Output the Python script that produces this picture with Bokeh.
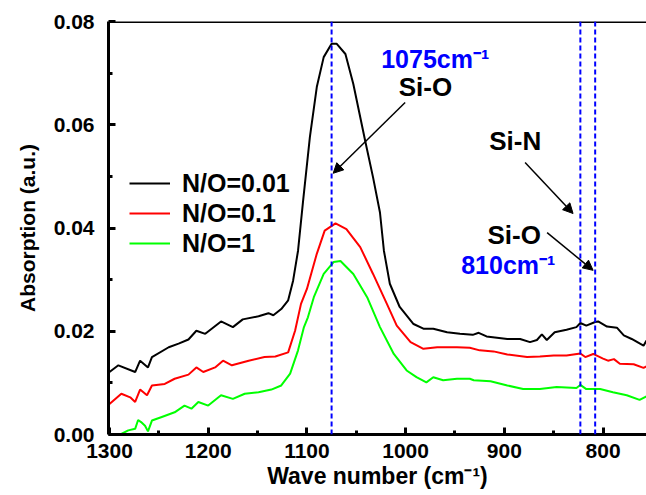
from bokeh.plotting import figure
from bokeh.models import (Range1d, Span, Label, Arrow, NormalHead, Legend, LegendItem,
                          FixedTicker, NumeralTickFormatter)
from bokeh.embed import file_html
from bokeh.resources import INLINE

# ---- data ----
wn_001 = [1300, 1291, 1274, 1269, 1261, 1257, 1240, 1230, 1220, 1212, 1203, 1187, 1175, 1165,
          1149, 1139, 1134, 1126, 1119, 1114, 1109, 1104, 1097, 1090, 1083, 1075, 1070, 1061,
          1053, 1041, 1033, 1026, 1022, 1016, 1006, 992, 982, 972, 958, 945, 932, 926, 918,
          897, 884, 874, 867, 862, 857, 849, 837, 827, 823, 817, 808, 805, 796, 786, 779,
          771, 759, 756]
ab_001 = [0.0121, 0.0134, 0.0121, 0.0143, 0.0130, 0.0150, 0.0169, 0.0176, 0.0184, 0.0201,
          0.0195, 0.0219, 0.0208, 0.0223, 0.0229, 0.0235, 0.0231, 0.0243, 0.0260, 0.0298,
          0.0356, 0.0450, 0.0576, 0.0673, 0.0731, 0.0757, 0.0757, 0.0737, 0.0679, 0.0569,
          0.0498, 0.0430, 0.0356, 0.0292, 0.0247, 0.0214, 0.0205, 0.0205, 0.0198, 0.0195,
          0.0193, 0.0197, 0.0190, 0.0185, 0.0185, 0.0179, 0.0183, 0.0194, 0.0183, 0.0198,
          0.0203, 0.0208, 0.0216, 0.0211, 0.0218, 0.0219, 0.0209, 0.0207, 0.0192, 0.0185,
          0.0172, 0.0182]

wn_01 = [1300, 1288, 1279, 1274, 1269, 1262, 1257, 1244, 1234, 1220, 1212, 1205, 1193, 1185,
         1176, 1159, 1143, 1132, 1119, 1112, 1106, 1100, 1090, 1082, 1071, 1060, 1046, 1033,
         1019, 1009, 995, 982, 968, 948, 935, 925, 911, 897, 877, 864, 850, 837, 823, 818,
         810, 800, 795, 789, 783, 769, 759, 756]
ab_01 = [0.0059, 0.0079, 0.0072, 0.0063, 0.0087, 0.0076, 0.0095, 0.0098, 0.0108, 0.0116,
         0.0130, 0.0121, 0.0130, 0.0143, 0.0134, 0.0143, 0.0150, 0.0151, 0.0159, 0.0201,
         0.0253, 0.0282, 0.0350, 0.0395, 0.0409, 0.0398, 0.0363, 0.0311, 0.0253, 0.0211,
         0.0179, 0.0166, 0.0169, 0.0169, 0.0168, 0.0163, 0.0161, 0.0155, 0.0150, 0.0151,
         0.0153, 0.0153, 0.0157, 0.0150, 0.0156, 0.0147, 0.0143, 0.0146, 0.0137, 0.0136,
         0.0129, 0.0132]

wn_1 = [1300, 1292, 1289, 1281, 1274, 1271, 1268, 1264, 1261, 1257, 1247, 1234, 1224, 1217,
        1210, 1200, 1187, 1175, 1163, 1149, 1136, 1126, 1117, 1109, 1103, 1099, 1093, 1083,
        1073, 1066, 1053, 1039, 1026, 1012, 999, 989, 979, 972, 962, 948, 935, 931, 914,
        897, 881, 864, 847, 827, 823, 817, 803, 790, 776, 763, 756]
ab_1 = [-0.0015, -0.0003, 0.0000, 0.0008, 0.0011, 0.0028, 0.0024, 0.0017, 0.0006, 0.0027,
        0.0034, 0.0043, 0.0056, 0.0050, 0.0063, 0.0056, 0.0076, 0.0069, 0.0079, 0.0082,
        0.0087, 0.0095, 0.0118, 0.0163, 0.0208, 0.0227, 0.0266, 0.0311, 0.0334, 0.0336,
        0.0311, 0.0266, 0.0208, 0.0156, 0.0124, 0.0111, 0.0101, 0.0111, 0.0105, 0.0108,
        0.0108, 0.0105, 0.0103, 0.0095, 0.0088, 0.0088, 0.0092, 0.0090, 0.0096, 0.0088,
        0.0088, 0.0082, 0.0076, 0.0067, 0.0074]

series_labels = ["N/O=0.01", "N/O=0.1", "N/O=1"]
series_colors = ["#000000", "#ff0000", "#00ff00"]

x_ticks = [1300, 1200, 1100, 1000, 900, 800]
y_ticks = [0.00, 0.02, 0.04, 0.06, 0.08]
peak_lines = [1075, 823, 808]

FONT = "Liberation Sans"

p = figure(width=646, height=495, output_backend="svg", toolbar_location=None,
           x_range=Range1d(1301, 756), y_range=Range1d(0, 0.08),
           min_border_left=108, min_border_right=0, min_border_top=21, min_border_bottom=61)
p.outline_line_color = None
p.grid.visible = False
p.background_fill_color = "white"
p.border_fill_color = "white"

# axes
for ax in (p.xaxis[0], p.yaxis[0]):
    ax.axis_line_width = 3
    ax.axis_line_color = "black"
    ax.major_tick_line_width = 3
    ax.minor_tick_line_width = 3
    ax.major_tick_in = 7
    ax.major_tick_out = 0
    ax.minor_tick_in = 4
    ax.minor_tick_out = 0
    ax.major_label_text_font = FONT
    ax.major_label_text_font_style = "bold"
    ax.major_label_text_font_size = "21px"
    ax.major_label_text_color = "black"
    ax.axis_label_text_font = FONT
    ax.axis_label_text_font_style = "bold"
    ax.axis_label_text_color = "black"

p.xaxis.ticker = FixedTicker(ticks=x_ticks, minor_ticks=[1250, 1150, 1050, 950, 850, 750])
p.yaxis.ticker = FixedTicker(ticks=y_ticks, minor_ticks=[0.01, 0.03, 0.05, 0.07])
p.yaxis.formatter = NumeralTickFormatter(format="0.00")
p.xaxis.major_label_standoff = 9
p.yaxis.major_label_standoff = 14
p.xaxis.axis_label = "Wave number (cm\u207b\u00b9)"
p.yaxis.axis_label = "Absorption (a.u.)"
p.xaxis.axis_label_text_font_size = "23px"
p.yaxis.axis_label_text_font_size = "21px"
p.xaxis.axis_label_standoff = 2
p.yaxis.axis_label_standoff = 12

# top frame line
p.add_layout(Span(location=0.08, dimension="width", line_color="black", line_width=3))

# dashed blue peak markers
for loc in peak_lines:
    p.add_layout(Span(location=loc, dimension="height", line_color="#0000ff",
                      line_width=2, line_dash="5 3"))

# curves
renderers = []
for wn, ab, col in zip([wn_001, wn_01, wn_1], [ab_001, ab_01, ab_1], series_colors):
    r = p.line(wn, ab, line_color=col, line_width=2)
    renderers.append(r)

legend = Legend(items=[LegendItem(label=lab, renderers=[r]) for lab, r in zip(series_labels, renderers)],
                location=(21, 176), border_line_color=None, background_fill_alpha=0,
                padding=0, margin=0, spacing=0, glyph_width=41, glyph_height=30,
                label_height=30, label_standoff=12,
                label_text_font=FONT, label_text_font_style="bold",
                label_text_font_size="25px", label_text_color="black")
p.add_layout(legend, "center")

# annotations
def txt(x, y, s, color="black", size="26px"):
    p.add_layout(Label(x=x, y=y, text=s, text_color=color, text_font=FONT,
                       text_font_style="bold", text_font_size=size,
                       text_align="center", text_baseline="middle"))

txt(970, 0.0728, "1075cm\u207b\u00b9", color="#0000ff", size="25px")
txt(980, 0.0674, "Si-O")
txt(889, 0.0568, "Si-N")
txt(890, 0.0387, "Si-O")
txt(896, 0.0329, "810cm\u207b\u00b9", color="#0000ff", size="25px")

for (xs, ys, xe, ye) in [(1000.5, 0.0643, 1073.4, 0.0506),
                         (879, 0.0527, 830.4, 0.0428),
                         (856.7, 0.0391, 810.1, 0.0318)]:
    p.add_layout(Arrow(x_start=xs, y_start=ys, x_end=xe, y_end=ye, line_width=1.5,
                       line_color="black",
                       end=NormalHead(size=10, fill_color="black", line_color="black")))

open("out.html", "w").write(file_html(p, INLINE))
